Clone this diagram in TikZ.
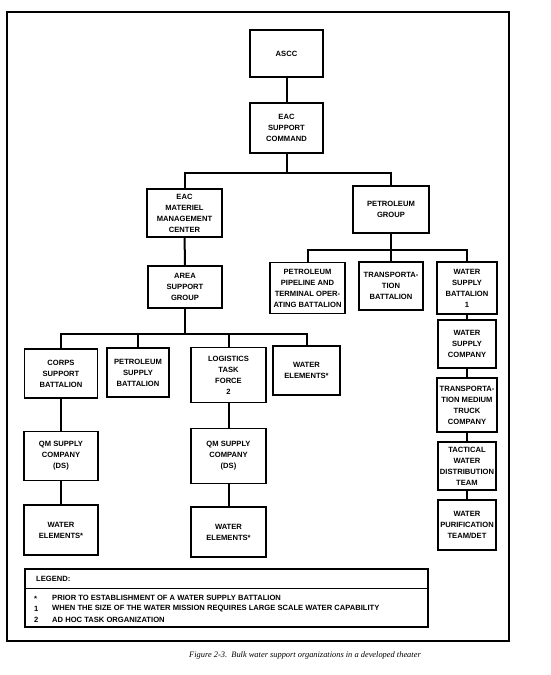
\documentclass[tikz,border=0pt]{standalone}
\usepackage{fontspec}
\setmainfont{Liberation Serif}
\newfontfamily\orgfont{Liberation Sans}

\begin{document}
\begin{tikzpicture}[
    x=1pt, y=-1pt,
    font=\orgfont\bfseries\fontsize{7.6}{11}\selectfont,
]

\tikzset{
    unit/.style = {rectangle, draw=black, line width=1.1pt, align=center, inner sep=0.5pt,
                   minimum width=74pt, minimum height=48pt},
    link/.style = {line width=2pt},
    frame/.style = {line width=2pt},
    legend_text/.style = {anchor=west, inner sep=0pt}
}

\useasboundingbox (0,0) rectangle (550,675);

% Outer frame
\draw[frame] (7,12) rectangle (509,641);

% Bus lines
\coordinate (bus_top) at (0,173);
\coordinate (bus_pet) at (0,250);
\coordinate (bus_area) at (0,334);

% =========== TOP OF THE CHAIN ===========
\node[unit, minimum width=73pt, minimum height=47pt] (ascc) at (286.5,53.5) {ASCC};
\node[unit, minimum width=73pt, minimum height=50pt] (eac_cmd) at (286.5,128) {EAC\\SUPPORT\\COMMAND};
\draw[link] (ascc) -- (eac_cmd);

\node[unit, minimum width=75pt] (eac_mmc) at (184.5,213) {EAC\\MATERIEL\\MANAGEMENT\\CENTER};
\node[unit, minimum width=76pt, minimum height=47pt] (pet_grp) at (391,209.5) {PETROLEUM\\GROUP};
\draw[link] (eac_cmd.south) -- (eac_cmd.south |- bus_top);
\draw[link] (eac_mmc.north) |- (bus_top -| pet_grp) -- (pet_grp.north);

% =========== PETROLEUM GROUP ===========
\node[unit, minimum width=75pt, minimum height=51pt] (pipe_bn) at (307.5,288) {PETROLEUM\\PIPELINE AND\\TERMINAL OPER-\\ATING BATTALION};
\node[unit, minimum width=64pt] (trans_bn) at (391,286) {TRANSPORTA-\\TION\\BATTALION};
\node[unit, minimum width=60pt, minimum height=52pt] (wsup_bn) at (467,288) {WATER\\SUPPLY\\BATTALION\\1};
\draw[link] (pipe_bn.north) |- (bus_pet -| wsup_bn) -- (wsup_bn.north);
\draw[link] (pet_grp) -- (trans_bn);

% Water supply column
\node[unit, minimum width=58pt, minimum height=48pt] (wsup_co) at (467,344) {WATER\\SUPPLY\\COMPANY};
\node[unit, minimum width=60pt, minimum height=54pt] (truck_co) at (467,405) {TRANSPORTA-\\TION MEDIUM\\TRUCK\\COMPANY};
\node[unit, minimum width=58pt, minimum height=48pt] (twd_team) at (467,466) {TACTICAL\\WATER\\DISTRIBUTION\\TEAM};
\node[unit, minimum width=58pt, minimum height=50pt] (wpur_team) at (467,525) {WATER\\PURIFICATION\\TEAM/DET};
\draw[link] (wsup_bn) -- (wsup_co);
\draw[link] (wsup_co) -- (truck_co);
\draw[link] (truck_co) -- (twd_team);
\draw[link] (twd_team) -- (wpur_team);

% =========== AREA SUPPORT GROUP ===========
\node[unit, minimum height=42pt] (area_grp) at (185,287) {AREA\\SUPPORT\\GROUP};
\draw[link] (eac_mmc) -- (area_grp);

\node[unit, minimum width=73pt, minimum height=49pt] (corps_bn) at (61,373.5) {CORPS\\SUPPORT\\BATTALION};
\node[unit, minimum width=62pt, minimum height=49pt] (psup_bn) at (138,372.5) {PETROLEUM\\SUPPLY\\BATTALION};
\node[unit, minimum width=75pt, minimum height=55pt] (ltf) at (228.5,375) {LOGISTICS\\TASK\\FORCE\\2};
\node[unit, minimum width=67pt, minimum height=49pt] (water_a) at (306.5,370.5) {WATER\\ELEMENTS*};
\draw[link] (area_grp.south) -- (area_grp.south |- bus_area);
\draw[link] (corps_bn.north) |- (bus_area -| water_a) -- (water_a.north);
\draw[link] (psup_bn.north) -- (psup_bn.north |- bus_area);
\draw[link] (ltf.north) -- (ltf.north |- bus_area);

% Lower columns
\node[unit, minimum height=49pt] (qm_a) at (61,456) {QM SUPPLY\\COMPANY\\(DS)};
\node[unit, minimum height=50pt] (water_b) at (61,530) {WATER\\ELEMENTS*};
\node[unit, minimum width=75pt, minimum height=55pt] (qm_b) at (228.5,456) {QM SUPPLY\\COMPANY\\(DS)};
\node[unit, minimum width=75pt, minimum height=50pt] (water_c) at (228.5,532) {WATER\\ELEMENTS*};
\draw[link] (corps_bn) -- (qm_a);
\draw[link] (qm_a) -- (water_b);
\draw[link] (ltf) -- (qm_b);
\draw[link] (qm_b) -- (water_c);

% =========== LEGEND ===========
\node[rectangle, draw=black, line width=1.1pt, minimum width=403pt, minimum height=58pt,
      inner sep=0pt] (legend) at (226.5,598) {};
\coordinate (legend_sep) at (0,588);
\draw[line width=0.9pt] (legend.west |- legend_sep) -- (legend.east |- legend_sep);
\node[legend_text] (legend_title) at (36,578.5) {LEGEND:};
\node[legend_text] (key_star) at (34,599) {*};
\node[legend_text] (note_star) at (52,598) {PRIOR TO ESTABLISHMENT OF A WATER SUPPLY BATTALION};
\node[legend_text] (key_one) at (34,609) {1};
\node[legend_text] (note_one) at (52,609) {WHEN THE SIZE OF THE WATER MISSION REQUIRES LARGE SCALE WATER CAPABILITY};
\node[legend_text] (key_two) at (34,620) {2};
\node[legend_text] (note_two) at (52,620) {AD HOC TASK ORGANIZATION};

% Caption
\node[font=\normalfont\itshape\fontsize{8.4}{10}\selectfont] (caption) at (305,655)
    {Figure 2-3.\ \ Bulk water support organizations in a developed theater};

\end{tikzpicture}
\end{document}
